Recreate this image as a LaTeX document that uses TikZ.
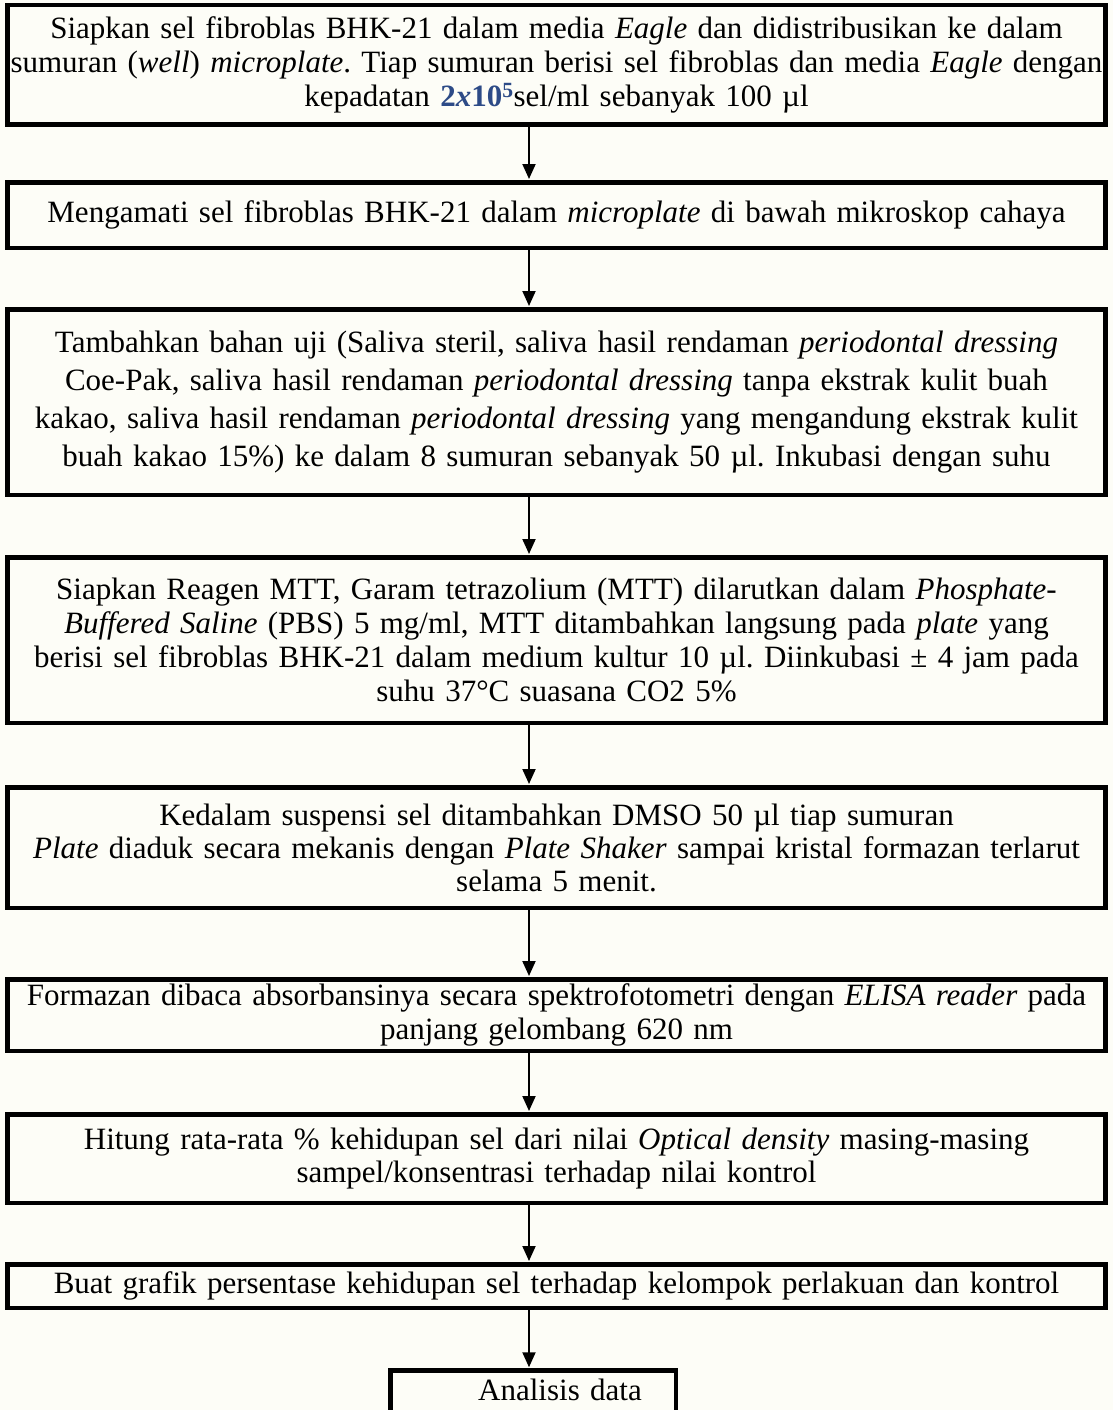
\documentclass[tikz,border=0pt]{standalone}
\usepackage{fontspec}
\setmainfont{Liberation Serif}
\usetikzlibrary{arrows.meta,positioning}

\definecolor{paper}{RGB}{253,253,247}
\definecolor{eqblue}{RGB}{45,75,135}

\tikzset{
  stepbox/.style={draw,line width=4.5pt,fill=paper,minimum width=1098pt,text width=1098pt,
    inner xsep=0pt,inner ysep=0pt,align=center,font=\fontsize{31}{34}\selectfont\frenchspacing},
  arr/.style={-{Triangle[width=13pt,length=15pt]},line width=2pt,shorten >=1pt}
}

\begin{document}
\begin{tikzpicture}[x=1pt,y=-1pt]
\useasboundingbox (0,0) rectangle (1113,1410);
\clip (0,0) rectangle (1113,1410);
\fill[paper] (0,0) rectangle (1113,1410);
\node[stepbox,minimum height=119.5pt] (s1) at (556.5,65) {Siapkan sel fibroblas BHK-21 dalam media \textit{Eagle} dan didistribusikan ke dalam\\ sumuran (\textit{well}) \textit{microplate}. Tiap sumuran berisi sel fibroblas dan media \textit{Eagle} dengan\\ kepadatan {\color{eqblue}\bfseries 2\textit{x}10\textsuperscript{5}}sel/ml sebanyak 100 µl};
\node[stepbox,minimum height=65.5pt] (s2) at (556.5,215) {Mengamati sel fibroblas BHK-21 dalam \textit{microplate} di bawah mikroskop cahaya};
\node[stepbox,minimum height=185.5pt,font=\fontsize{31}{38}\selectfont\frenchspacing] (s3) at (556.5,402) {Tambahkan bahan uji (Saliva steril, saliva hasil rendaman \textit{periodontal dressing}\\ Coe-Pak, saliva hasil rendaman \textit{periodontal dressing} tanpa ekstrak kulit buah\\ kakao, saliva hasil rendaman \textit{periodontal dressing} yang mengandung ekstrak kulit\\ buah kakao 15\%) ke dalam 8 sumuran sebanyak 50 µl. Inkubasi dengan suhu};
\node[stepbox,minimum height=165.5pt] (s4) at (556.5,640) {Siapkan Reagen MTT, Garam tetrazolium (MTT) dilarutkan dalam \textit{Phosphate-}\\ \textit{Buffered Saline} (PBS) 5 mg/ml, MTT ditambahkan langsung pada \textit{plate} yang\\ berisi sel fibroblas BHK-21 dalam medium kultur 10 µl. Diinkubasi ± 4 jam pada\\ suhu 37°C suasana CO2 5\%};
\node[stepbox,minimum height=120.5pt,font=\fontsize{31}{33}\selectfont\frenchspacing] (s5) at (556.5,847.5) {Kedalam suspensi sel ditambahkan DMSO 50 µl tiap sumuran\\ \textit{Plate} diaduk secara mekanis dengan \textit{Plate Shaker} sampai kristal formazan terlarut\\ selama 5 menit.};
\node[stepbox,minimum height=71.5pt] (s6) at (556.5,1015) {Formazan dibaca absorbansinya secara spektrofotometri dengan \textit{ELISA reader} pada\\ panjang gelombang 620 nm};
\node[stepbox,minimum height=88.5pt,font=\fontsize{31}{33}\selectfont\frenchspacing] (s7) at (556.5,1158.5) {Hitung rata-rata \% kehidupan sel dari nilai \textit{Optical density} masing-masing\\ sampel/konsentrasi terhadap nilai kontrol};
\node[stepbox,minimum height=43.5pt] (s8) at (556.5,1286) {Buat grafik persentase kehidupan sel terhadap kelompok perlakuan dan kontrol};
\node[stepbox,minimum width=285.5pt,text width=285.5pt,anchor=north,text height=30pt,text depth=60pt] (s9) at (533,1368.25) {\hspace*{54pt}Analisis data};
\coordinate (axis) at (529,0);
\draw[arr] (s1.south -| axis) -- (s2.north -| axis);
\draw[arr] (s2.south -| axis) -- (s3.north -| axis);
\draw[arr] (s3.south -| axis) -- (s4.north -| axis);
\draw[arr] (s4.south -| axis) -- (s5.north -| axis);
\draw[arr] (s5.south -| axis) -- (s6.north -| axis);
\draw[arr] (s6.south -| axis) -- (s7.north -| axis);
\draw[arr] (s7.south -| axis) -- (s8.north -| axis);
\draw[arr] (s8.south -| axis) -- (s9.north -| axis);
\end{tikzpicture}
\end{document}
